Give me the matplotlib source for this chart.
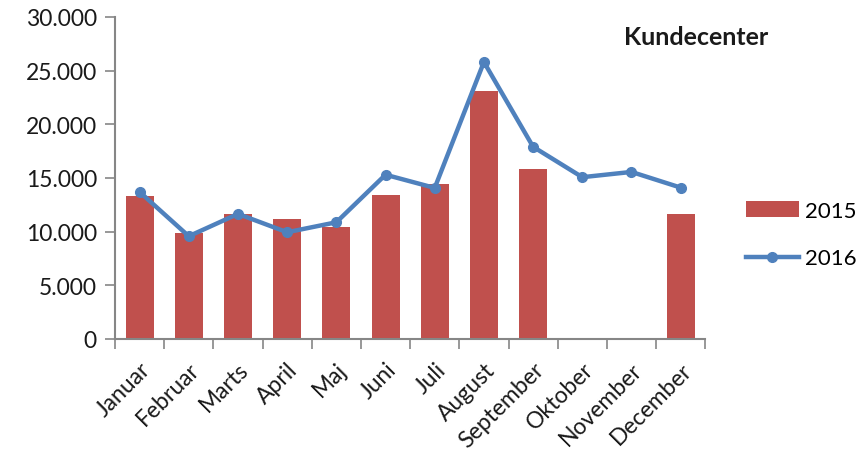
import matplotlib.pyplot as plt
import numpy as np

plt.rcParams['font.family'] = ['Lato', 'DejaVu Sans']

months = ['Januar', 'Februar', 'Marts', 'April', 'Maj', 'Juni', 'Juli',
          'August', 'September', 'Oktober', 'November', 'December']
y2015 = [13300, 9900, 11600, 11200, 10400, 13400, 14450, 23100, 15850,
         np.nan, np.nan, 11650]
y2016 = [13700, 9570, 11650, 9940, 10870, 15300, 14070, 25800, 17900,
         15070, 15560, 14100]
yticks = [0, 5000, 10000, 15000, 20000, 25000, 30000]
ytick_labels = ['0', '5.000', '10.000', '15.000', '20.000', '25.000', '30.000']

fig = plt.figure(figsize=(8.58, 4.6), dpi=100)
ax = fig.add_axes([0.134, 0.261, 0.688, 0.700])

x = np.arange(len(months))
bars = ax.bar(x, y2015, width=0.57, color='#C0504D', label='2015', zorder=2)
line, = ax.plot(x, y2016, color='#4F81BD', linewidth=3.2, marker='o',
                markersize=7, label='2016', zorder=3)

ax.set_xlim(-0.5, len(months) - 0.5)
ax.set_ylim(0, 30000)
ax.set_yticks(yticks)
ax.set_yticklabels(ytick_labels, fontsize=16.5, color='#1a1a1a')

# category ticks sit between the month groups
ax.set_xticks(np.arange(len(months) + 1) - 0.5)
ax.set_xticklabels([])
ax.set_xticks(x, minor=True)
ax.set_xticklabels(months, minor=True, rotation=45, ha='right',
                   rotation_mode='anchor', fontsize=16.5, color='#1a1a1a')
ax.tick_params(axis='x', which='minor', length=0, pad=14)
ax.tick_params(axis='x', which='major', length=7, width=1.2, color='#868686')
ax.tick_params(axis='y', length=7, width=1.2, color='#868686', pad=6)

for s in ['top', 'right']:
    ax.spines[s].set_visible(False)
for s in ['left', 'bottom']:
    ax.spines[s].set_color('#868686')
    ax.spines[s].set_linewidth(1.5)

fig.text(0.811, 0.919, 'Kundecenter', fontsize=18, fontweight='bold',
         ha='center', va='center', color='#1a1a1a')

ax.legend([bars, line], ['2015', '2016'], loc='center left',
          bbox_to_anchor=(1.0695, 0.3245), frameon=False, fontsize=16,
          borderpad=0, borderaxespad=0, handlelength=2.35,
          handletextpad=0.27, labelspacing=1.25)

fig.savefig('out.png', dpi=100)
